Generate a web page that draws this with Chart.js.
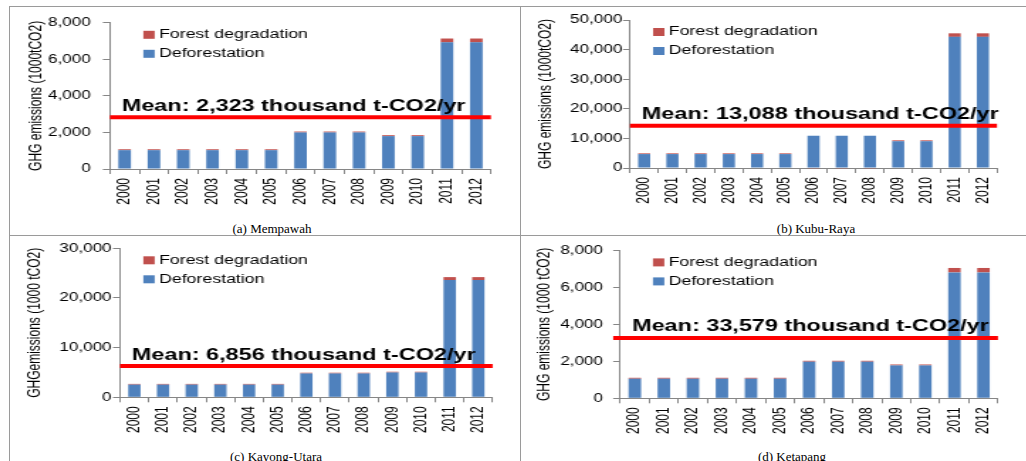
<!DOCTYPE html>
<html>
<head>
<meta charset="utf-8">
<script src="https://cdn.jsdelivr.net/npm/chart.js@4.4.0/dist/chart.umd.min.js"></script>
<style>
  body { margin: 0; width: 1026px; height: 461px; overflow: hidden; background: #fff; position: relative; }
  .panel { position: absolute; transform-origin: 0 0; transform: scaleX(1.42); }
  .rule { position: absolute; background: #9a9a9a; }
  .cap { position: absolute; font-family: 'Liberation Serif', 'Times New Roman', serif; font-size: 13px;
         line-height: 15px; transform: translateX(-50%); white-space: nowrap; color: #000; }
</style>
</head>
<body>
<div class="rule" style="left:9px;top:6px;width:1017px;height:1px"></div>
<div class="rule" style="left:9px;top:235px;width:1017px;height:1px"></div>
<div class="rule" style="left:9px;top:6px;width:1px;height:455px"></div>
<div class="rule" style="left:520px;top:6px;width:1px;height:455px"></div>
<div id="root"></div>

<script>
// data
var years = ['2000', '2001', '2002', '2003', '2004', '2005', '2006', '2007', '2008', '2009', '2010', '2011', '2012'];

var defMempawah = [1030, 1030, 1030, 1030, 1030, 1030, 2000, 2000, 2000, 1800, 1800, 6930, 6930];
var degMempawah = [50, 50, 50, 50, 50, 50, 50, 50, 50, 50, 50, 210, 210];

var defKubuRaya = [4700, 4700, 4700, 4700, 4700, 4700, 10900, 10900, 10900, 9050, 9050, 44300, 44300];
var degKubuRaya = [250, 250, 250, 250, 250, 250, -250, -250, -250, 300, 300, 1200, 1200];

var defKayong = [2550, 2550, 2550, 2550, 2550, 2550, 4800, 4800, 4800, 5000, 5000, 23600, 23600];
var degKayong = [150, 150, 150, 150, 150, 150, 150, 150, 150, 150, 150, 600, 600];

var defKetapang = [1060, 1060, 1060, 1060, 1060, 1060, 1980, 1980, 1980, 1780, 1780, 6810, 6810];
var degKetapang = [50, 50, 50, 50, 50, 50, 50, 50, 50, 50, 50, 240, 240];

var yMax = [8000, 50000, 30000, 8000];
var yStep = [2000, 10000, 10000, 2000];
var meanText = [2323, 13088, 6856, 33579];   // value written in the label
var meanLevel = [2830, 14290, 6300, 3264];   // where the red line is drawn
var yTitles = ['GHG emissions (1000tCO2)', 'GHG emissions (1000tCO2)', 'GHGemissions (1000 tCO2)', 'GHG emissions (1000 tCO2)'];
var captions = ['(a) Mempawah', '(b) Kubu-Raya', '(c) Kayong-Utara', '(d) Ketapang'];

var seriesDef = [defMempawah, defKubuRaya, defKayong, defKetapang];
var seriesDeg = [degMempawah, degKubuRaya, degKayong, degKetapang];

// layout per panel (unstretched canvas px)
var layout = [
  { x: 10,  y: 7,   w: 359, h: 205, L: 70.4, R: 338.7, T: 13,   B: 162,   titlePad: 11.5, tickPad: 8.6, legendDx: 23.5, lineDx: 0,  capX: 272, capY: 228 },
  { x: 521, y: 7,   w: 355, h: 205, L: 76.8, R: 335.2, T: 13,   B: 161,   titlePad: 10.1, tickPad: 0.5, legendDx: 16.2, lineDx: 0,  capX: 816, capY: 228 },
  { x: 10,  y: 236, w: 359, h: 205, L: 77.5, R: 339.9, T: 12.3, B: 161.3, titlePad: 10.4, tickPad: 1,   legendDx: 16.4, lineDx: 0,  capX: 276, capY: 456 },
  { x: 521, y: 236, w: 355, h: 205, L: 69.9, R: 335.9, T: 11.3, B: 162.3, titlePad: 9.5,  tickPad: 7.2, legendDx: 23,   lineDx: -5, capX: 792, capY: 456 }
];

Chart.defaults.font.family = "'Liberation Sans', Arial, sans-serif";
Chart.defaults.color = '#000';

var extras = {
  id: 'extras',
  afterDatasetsDraw: function(chart, args, o) {
    var ctx = chart.ctx, a = chart.chartArea;
    var py = chart.scales.y.getPixelForValue(o.level);
    ctx.save();
    ctx.strokeStyle = '#ff0000';
    ctx.lineWidth = 4;
    ctx.beginPath();
    ctx.moveTo(a.left + o.lineDx, py);
    ctx.lineTo(a.right, py);
    ctx.stroke();
    ctx.fillStyle = '#000';
    ctx.font = "bold 16.5px 'Liberation Sans', Arial, sans-serif";
    ctx.textBaseline = 'alphabetic';
    ctx.fillText('Mean: ' + o.text.toLocaleString('en-US') + ' thousand t-CO2/yr', a.left + 8.3, py - 6.5);

    // legend, top series first
    var ds = chart.data.datasets.slice().reverse();
    ctx.font = "12.5px 'Liberation Sans', Arial, sans-serif";
    ctx.textBaseline = 'middle';
    ds.forEach(function(d, i) {
      var ly = a.top + 12 + i * 19;
      ctx.fillStyle = d.backgroundColor;
      ctx.fillRect(a.left + o.legendDx, ly - 4, 8, 8);
      ctx.fillStyle = '#000';
      ctx.fillText(d.label, a.left + o.legendDx + 11, ly);
    });
    ctx.restore();
  }
};

var root = document.getElementById('root');

layout.forEach(function(p, i) {
  var div = document.createElement('div');
  div.className = 'panel';
  div.style.left = p.x + 'px';
  div.style.top = p.y + 'px';
  div.style.width = p.w + 'px';
  div.style.height = p.h + 'px';
  var cv = document.createElement('canvas');
  cv.width = p.w;
  cv.height = p.h;
  div.appendChild(cv);
  root.appendChild(div);

  var cap = document.createElement('div');
  cap.className = 'cap';
  cap.style.left = p.capX + 'px';
  cap.style.top = (p.capY - 7.5) + 'px';
  cap.textContent = captions[i];
  document.body.appendChild(cap);

  new Chart(cv.getContext('2d'), {
    type: 'bar',
    data: {
      labels: years,
      datasets: [
        { label: 'Deforestation', data: seriesDef[i], backgroundColor: '#4F81BD', borderWidth: 0,
          barPercentage: 0.43, categoryPercentage: 1, clip: false },
        { label: 'Forest degradation', data: seriesDeg[i], backgroundColor: '#C0504D', borderWidth: 0,
          barPercentage: 0.43, categoryPercentage: 1, clip: false }
      ]
    },
    options: {
      responsive: false,
      animation: false,
      layout: { padding: { left: 0, right: p.w - p.R, top: p.T, bottom: 0 } },
      scales: {
        x: {
          stacked: true,
          ticks: { minRotation: 90, maxRotation: 90, padding: 4, color: '#000', font: { size: 12 } },
          grid: { drawOnChartArea: false, tickLength: 5, color: '#868686' },
          border: { color: '#868686' },
          afterFit: function(s) { s.height = p.h - p.B; }
        },
        y: {
          stacked: true,
          min: 0,
          max: yMax[i],
          ticks: {
            stepSize: yStep[i],
            padding: p.tickPad,
            color: '#000',
            font: { size: 12 },
            callback: function(v) { return v.toLocaleString('en-US'); }
          },
          grid: { drawOnChartArea: false, tickLength: 5, color: '#868686' },
          border: { color: '#868686' },
          title: { display: true, text: yTitles[i], color: '#000', font: { size: 12 }, padding: { top: p.titlePad, bottom: 0 } },
          afterFit: function(s) { s.width = p.L; }
        }
      },
      plugins: {
        legend: { display: false },
        tooltip: { enabled: false },
        extras: { level: meanLevel[i], text: meanText[i], legendDx: p.legendDx, lineDx: p.lineDx }
      }
    },
    plugins: [extras]
  });
});
</script>
</body>
</html>
